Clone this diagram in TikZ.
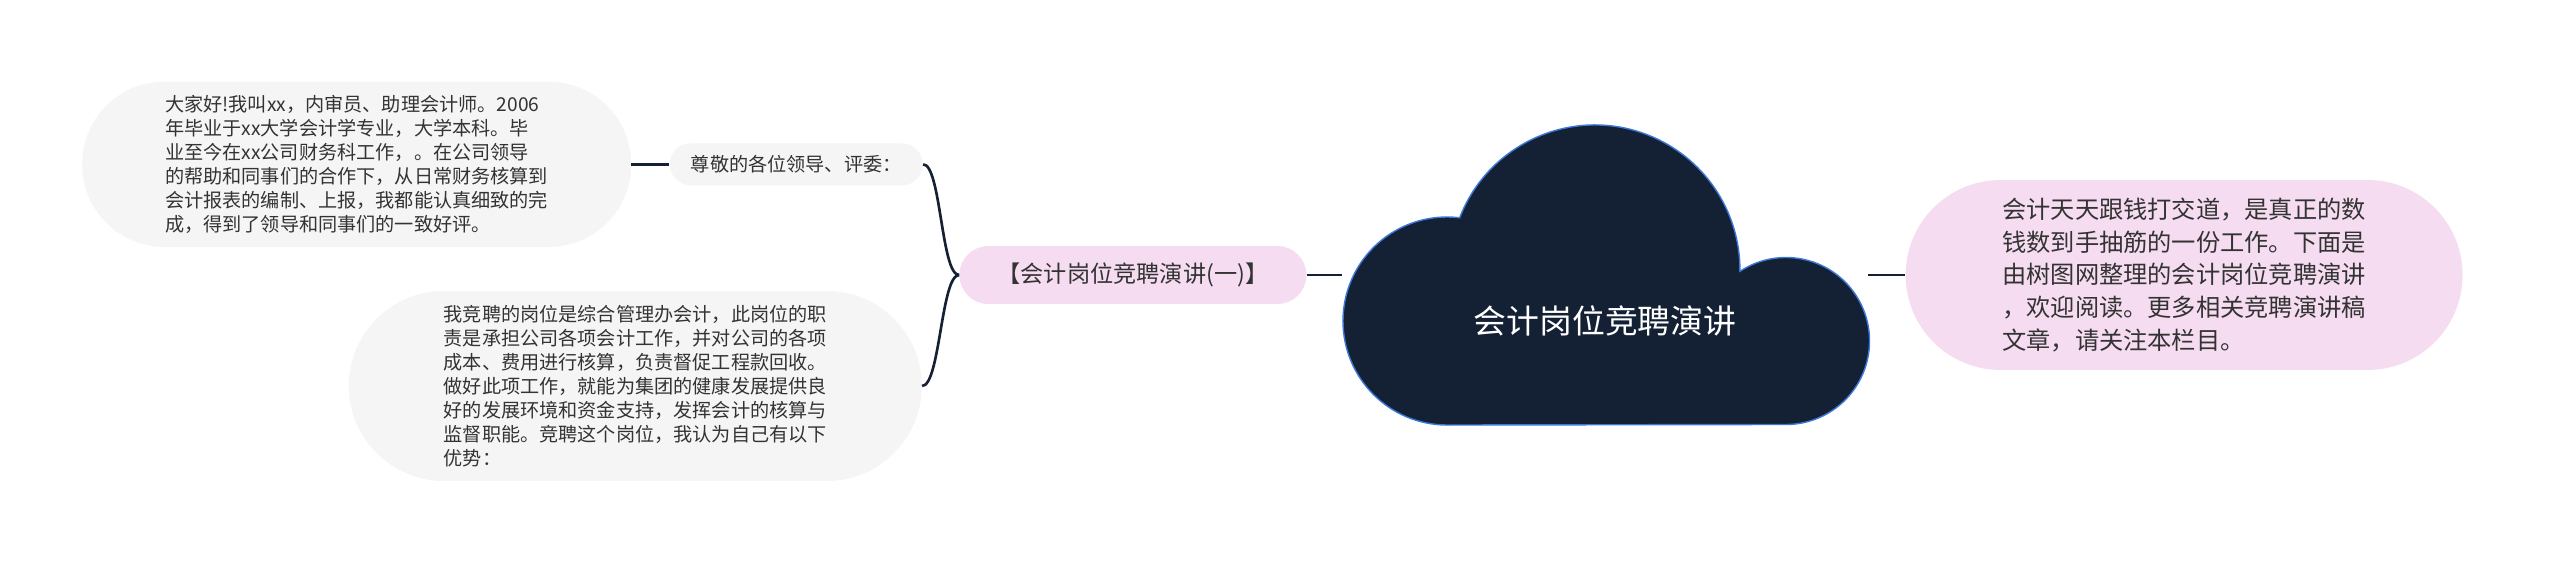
\documentclass[tikz,border=0pt]{standalone}
\usepackage{fontspec}
\setmainfont{Noto Sans CJK SC}
\usetikzlibrary{positioning}
\definecolor{cloudnavy}{HTML}{142033}
\definecolor{cloudrim}{HTML}{3C78D8}
\definecolor{leafgrey}{HTML}{F5F5F5}
\definecolor{leafpink}{HTML}{F5DCF0}
\definecolor{inktext}{HTML}{333333}

\begin{document}
\begin{tikzpicture}[x=0.02cm,y=0.02cm,node distance=7mm,
 every node/.style={text=inktext,align=left,inner sep=0pt},
 link/.style={draw=cloudnavy,line width=1.5pt},
 greybox/.style={fill=leafgrey,font=\fontsize{10.9pt}{13.7pt}\selectfont},
 pinkbox/.style={fill=leafpink}]
    \fill[white] (0,0) rectangle (2560,-565);
    \useasboundingbox (0,0) rectangle (2560,-565);
    % centre: cloud
    \node[minimum width=10.52cm,minimum height=6cm] (root) at (1605,-275) {};
    \draw[fill=cloudnavy,draw=cloudrim,line width=0.8pt]
      (1447,-425) arc[start angle=270,end angle=83,radius=104]
      arc[start angle=158.9,end angle=-0.55,radius=145]
      arc[start angle=123.5,end angle=-90,radius=83.5] -- cycle;
    \node[text=white,font=\fontsize{18.7pt}{22pt}\selectfont] (roottitle)
      at ([yshift=-0.92cm]root.center) {会计岗位竞聘演讲};
    % branches
    \node[pinkbox,rounded corners=0.58cm,minimum width=6.94cm,minimum height=1.16cm,
          font=\fontsize{13.2pt}{16pt}\selectfont,left=0.7cm of root] (part1)
      {【会计岗位竞聘演讲(一)】};
    \node[pinkbox,rounded corners=1.9cm,minimum width=11.14cm,minimum height=3.8cm,
          font=\fontsize{13.8pt}{18.5pt}\selectfont,right=0.74cm of root] (summary)
      {会计天天跟钱打交道，是真正的数\\钱数到手抽筋的一份工作。下面是\\由树图网整理的会计岗位竞聘演讲\\，欢迎阅读。更多相关竞聘演讲稿\\文章，请关注本栏目。};
    \node[greybox,rounded corners=0.42cm,minimum width=5.06cm,minimum height=0.84cm,
          above left=1.2cm and 0.72cm of part1] (greet)
      {尊敬的各位领导、评委：};
    \node[greybox,rounded corners=1.64cm,minimum width=10.98cm,minimum height=3.3cm,
          left=0.76cm of greet] (intro)
      {大家好!我叫xx，内审员、助理会计师。2006\\年毕业于xx大学会计学专业，大学本科。毕\\业至今在xx公司财务科工作，。在公司领导\\的帮助和同事们的合作下，从日常财务核算到\\会计报表的编制、上报，我都能认真细致的完\\成，得到了领导和同事们的一致好评。};
    \node[greybox,rounded corners=1.9cm,minimum width=11.46cm,minimum height=3.8cm,
          left=0.74cm of part1,yshift=-2.22cm] (duty)
      {我竞聘的岗位是综合管理办会计，此岗位的职\\责是承担公司各项会计工作，并对公司的各项\\成本、费用进行核算，负责督促工程款回收。\\做好此项工作，就能为集团的健康发展提供良\\好的发展环境和资金支持，发挥会计的核算与\\监督职能。竞聘这个岗位，我认为自己有以下\\优势：};
    \draw[link] (intro.east)--(greet.west);
    \draw[link] (part1.west) .. controls +(-0.36cm,0) and +(0.36cm,0) .. (greet.east);
    \draw[link] (part1.west) .. controls +(-0.36cm,0) and +(0.36cm,0) .. (duty.east);
    \draw[link] (part1.east)--(root.west);
    \draw[link] (root.east)--(summary.west);
\end{tikzpicture}
\end{document}
